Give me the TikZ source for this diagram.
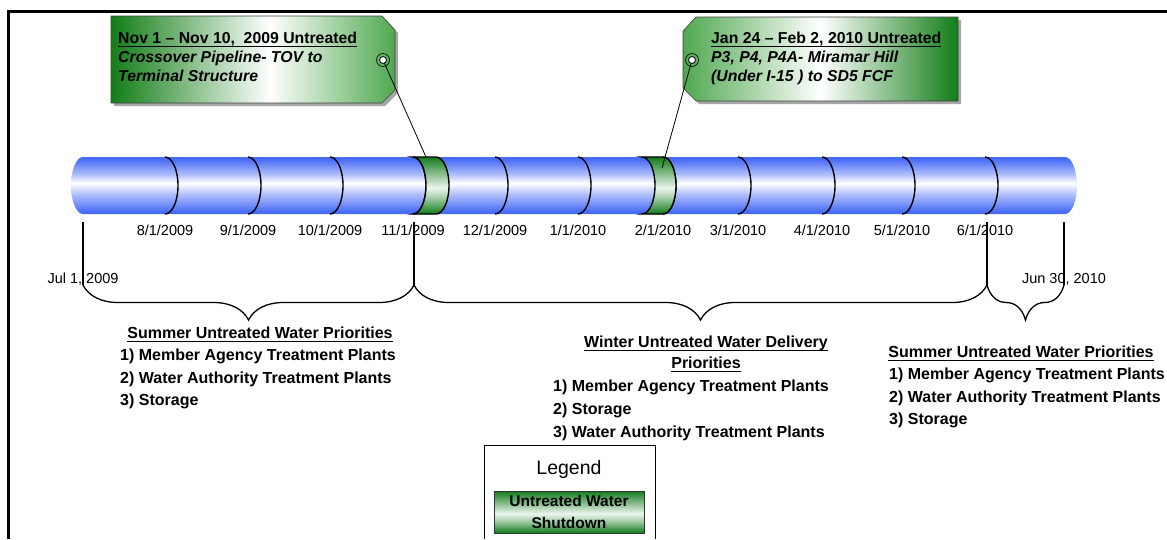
\documentclass[tikz,border=0pt]{standalone}
\usepackage{fontspec}
\setmainfont{Liberation Sans}
\usetikzlibrary{decorations.pathreplacing}

\definecolor{pipeblue}{RGB}{72,108,246}
\definecolor{bandgreen}{RGB}{25,128,35}
\definecolor{tagdark}{RGB}{18,125,22}
\definecolor{taglight}{RGB}{80,168,80}

\pgfdeclareverticalshading{pipeshade}{100bp}{color(0bp)=(pipeblue); color(27bp)=(pipeblue); color(42bp)=(pipeblue!45!white); color(52bp)=(white); color(60bp)=(pipeblue!45!white); color(73bp)=(pipeblue); color(100bp)=(pipeblue)}
\pgfdeclareverticalshading{bandshade}{100bp}{color(0bp)=(bandgreen); color(26bp)=(bandgreen); color(38bp)=(bandgreen!45!white); color(48bp)=(white!92!bandgreen); color(60bp)=(bandgreen!50!white); color(74bp)=(bandgreen); color(100bp)=(bandgreen)}
\pgfdeclarehorizontalshading{tagoneshade}{100bp}{color(0bp)=(tagdark); color(25bp)=(tagdark); color(53bp)=(white); color(75bp)=(taglight); color(100bp)=(taglight)}
\pgfdeclarehorizontalshading{tagtwoshade}{100bp}{color(0bp)=(taglight); color(25bp)=(taglight); color(50bp)=(white); color(75bp)=(tagdark); color(100bp)=(tagdark)}

\begin{document}
\begin{tikzpicture}[x=1pt,y=-1pt,
    datelbl/.style={font=\fontsize{14.5}{17}\selectfont, inner sep=0pt, anchor=base},
    prio/.style={font=\fontsize{16}{18}\selectfont\bfseries, inner sep=0pt, anchor=base west},
    priohead/.style={prio, anchor=base},
    taghead/.style={font=\fontsize{15.8}{18}\selectfont\bfseries, inner sep=0pt, anchor=base west},
    tagtxt/.style={font=\fontsize{15.8}{18}\selectfont\bfseries\itshape, inner sep=0pt, anchor=base west},
    tagedge/.style={draw=black!75, line width=0.6pt},
    monthsep/.style={line width=1.4pt},
    tickline/.style={line width=1.3pt},
    bracedn/.style={decorate, decoration={brace, amplitude=35pt}, line width=1.3pt},
    ulline/.style={line width=1.1pt},
    pinline/.style={line width=0.8pt}]
    \useasboundingbox (0,0) rectangle (1167,539);
    \draw[line width=3pt] (8,539) -- (8,11) -- (1167,11);

    % pipeline
    \shade[shading=pipeshade] (83,157) -- (1065,157) arc[start angle=90, end angle=-90, x radius=12pt, y radius=28.5pt]
        -- (83,214) arc[start angle=270, end angle=90, x radius=12pt, y radius=28.5pt] -- cycle;
    \foreach \mx/\mm/\yy in {165/8/2009,248/9/2009,330/10/2009,413/11/2009,495/12/2009,578/1/2010,663/2/2010,738/3/2010,822/4/2010,902/5/2010,985/6/2010}{
        \draw[monthsep] (\mx,157) arc[start angle=90, end angle=-90, x radius=13pt, y radius=28.5pt];
        \node[datelbl] (d\mm) at (\mx,235) {\mm/1/\yy};
    }
    % shutdowns
    \shade[shading=bandshade, draw=black, line width=1.4pt] (413,157) arc[start angle=90, end angle=-90, x radius=13pt, y radius=28.5pt]
        -- (436,214) arc[start angle=-90, end angle=90, x radius=13pt, y radius=28.5pt] -- cycle;
    \shade[shading=bandshade, draw=black, line width=1.4pt] (642,157) arc[start angle=90, end angle=-90, x radius=13pt, y radius=28.5pt]
        -- (663,214) arc[start angle=-90, end angle=90, x radius=13pt, y radius=28.5pt] -- cycle;

    % ticks and braces
    \node[datelbl] (julone) at (83,283) {Jul 1, 2009};
    \node[datelbl] (junthirty) at (1064,283) {Jun 30, 2010};
    \coordinate (bjul) at (83,285);
    \coordinate (bnov) at (414,285);
    \coordinate (bjun) at (987,285);
    \coordinate (bend) at (1064,285);
    \foreach \b in {bjul,bnov,bjun,bend}
        \draw[tickline] (\b) -- ++(0,-63);
    \draw[bracedn] (bnov) -- (bjul);
    \draw[bracedn] (bjun) -- (bnov);
    \draw[bracedn] (bend) -- (bjun);

    % priorities
    \node[priohead] (sumhead) at (260,338.5) {Summer Untreated Water Priorities};
    \foreach \txt [count=\i] in {1) Member Agency Treatment Plants, 2) Water Authority Treatment Plants, 3) Storage}
        \node[prio] (sum\i) at (120,338+22.5*\i) {\txt};
    \node[priohead] (winhead) at (706,347.5) {Winter Untreated Water Delivery};
    \node[priohead] (winheadb) at (706,368.5) {Priorities};
    \foreach \txt [count=\i] in {1) Member Agency Treatment Plants, 2) Storage, 3) Water Authority Treatment Plants}
        \node[prio] (win\i) at (553,368.5+23*\i) {\txt};
    \node[priohead] (sumbhead) at (1021,357.5) {Summer Untreated Water Priorities};
    \foreach \txt [count=\i] in {1) Member Agency Treatment Plants, 2) Water Authority Treatment Plants, 3) Storage}
        \node[prio] (sumb\i) at (889,357.5+22.3*\i) {\txt};

    % tags
    \fill[black!35, shift={(3,3)}] (111,16) -- (382,16) -- (395,30) -- (395,90) -- (382,103) -- (111,103) -- cycle;
    \shade[shading=tagoneshade, tagedge] (111,16) -- (382,16) -- (395,30) -- (395,90) -- (382,103) -- (111,103) -- cycle;
    \node[taghead] (tagonehead) at (118,43.5) {Nov 1 – Nov 10,~ 2009 Untreated};
    \node[tagtxt] (tagonea) at (118,62.5) {Crossover Pipeline- TOV to};
    \node[tagtxt] (tagoneb) at (118,81.5) {Terminal Structure};
    \fill[black!35, shift={(3,3)}] (696,17) -- (958,17) -- (958,101) -- (696,101) -- (683,88) -- (683,31) -- cycle;
    \shade[shading=tagtwoshade, tagedge] (696,17) -- (958,17) -- (958,101) -- (696,101) -- (683,88) -- (683,31) -- cycle;
    \node[taghead] (tagtwohead) at (711,43.5) {Jan 24 – Feb 2, 2010 Untreated};
    \node[tagtxt] (tagtwoa) at (711,62.5) {P3, P4, P4A- Miramar Hill};
    \node[tagtxt] (tagtwob) at (711,81.5) {(Under I-15 ) to SD5 FCF};

    % underlines
    \foreach \n in {sumhead,winhead,winheadb,sumbhead,tagonehead,tagtwohead}
        \draw[ulline] ([yshift=-2.6pt]\n.base west) -- ([yshift=-2.6pt]\n.base east);

    % pins
    \coordinate (holeone) at (383,60);
    \coordinate (pinone) at (426,157);
    \coordinate (holetwo) at (692,60);
    \coordinate (pintwo) at (662,168);
    \draw[pinline] (holeone) -- (pinone);
    \draw[pinline] (holetwo) -- (pintwo);
    \foreach \h in {holeone,holetwo}{
        \draw[line width=0.6pt] (\h) circle (6.5pt);
        \draw[fill=white, line width=0.8pt] (\h) circle (3.5pt);
    }

    % legend
    \draw[line width=0.8pt] (484,539) -- (484,445) -- (655,445) -- (655,539);
    \node[font=\fontsize{19.5}{22}\selectfont, anchor=base, inner sep=0pt] (legend) at (569,474) {Legend};
    \shade[shading=bandshade, draw=black!80, line width=0.8pt] (494,491) rectangle (644,533);
    \node[font=\fontsize{15.5}{22}\selectfont\bfseries, align=center, inner sep=0pt] (legendkey) at (569,512) {Untreated Water\\Shutdown};
\end{tikzpicture}
\end{document}
